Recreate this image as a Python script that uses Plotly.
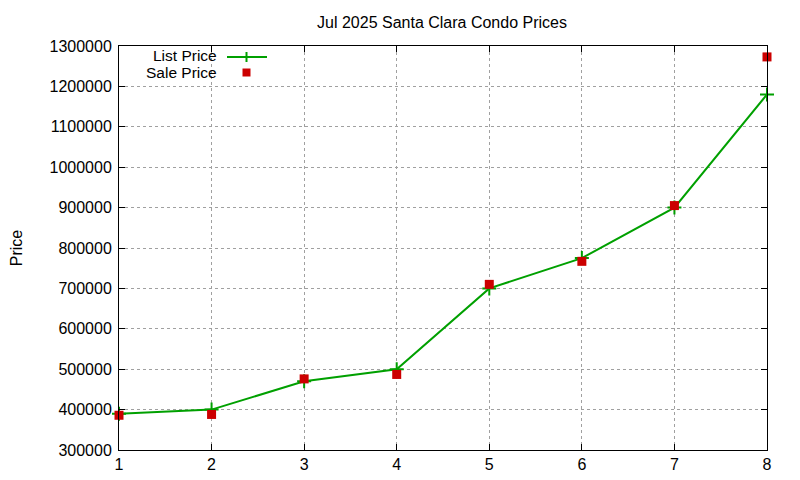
import plotly.graph_objects as go

months = [1, 2, 3, 4, 5, 6, 7, 8]
list_price = [390000, 400000, 470000, 500000, 700000, 775000, 900000, 1180000]
sale_price = [386000, 388000, 476000, 487000, 710000, 767000, 905000, 1273000]
y_ticks = [300000, 400000, 500000, 600000, 700000, 800000, 900000, 1000000,
           1100000, 1200000, 1300000]

FONT = "Liberation Sans, Arial, sans-serif"
GREEN = "#00a000"
RED = "#cc0000"
FS = 16

fig = go.Figure()
fig.add_trace(go.Scatter(
    x=months, y=list_price, mode="lines+markers", name="List Price",
    line=dict(color=GREEN, width=2),
    marker=dict(symbol="cross-thin", size=10, line=dict(color=GREEN, width=2)),
    showlegend=False, cliponaxis=False,
))
fig.add_trace(go.Scatter(
    x=months, y=sale_price, mode="markers", name="Sale Price",
    marker=dict(symbol="square", size=9, color=RED),
    showlegend=False, cliponaxis=False,
))

axis_common = dict(
    showline=True, linecolor="black", linewidth=1, mirror="allticks",
    ticks="inside", ticklen=6, tickcolor="black", automargin=False,
    showgrid=True, gridcolor="#a0a0a0", griddash="dot", gridwidth=1,
    zeroline=False, tickfont=dict(family=FONT, size=FS, color="black"),
)

# the page is rendered with a ~7px body margin in the screenshot
OFF = 7
L, R, T, B = 118, 766, 45, 449
fig.update_layout(
    width=800, height=480,
    margin=dict(l=L - OFF, r=800 - R + OFF, t=T - OFF, b=480 - B + OFF,
                autoexpand=False),
    paper_bgcolor="white", plot_bgcolor="white",
    title=dict(text="Jul 2025 Santa Clara Condo Prices", x=(441 - OFF) / 800,
               xanchor="center", y=1 - (21 - OFF) / 480, yanchor="middle",
               font=dict(family=FONT, size=FS, color="black")),
    xaxis=dict(range=[1, 8], tickvals=months, **axis_common),
    yaxis=dict(range=[300000, 1300000], tickvals=y_ticks, tickformat="d",
               ticklabelstandoff=3,
               title=dict(text="Price", font=dict(family=FONT, size=FS, color="black"),
                          standoff=28),
               **axis_common),
    font=dict(family=FONT, size=FS, color="black"),
)

W = R - L
H = B - T


def px(x):
    return (x - L) / W


def py(y):
    return (B - y) / H


# Gnuplot-style key (top-left, text right-aligned, sample to the right)
fig.add_annotation(xref="paper", yref="paper", x=px(218), y=py(54.5),
                   text="List Price", showarrow=False, xanchor="right", yanchor="middle",
                   font=dict(family=FONT, size=15.5, color="black"))
fig.add_annotation(xref="paper", yref="paper", x=px(218), y=py(71.5),
                   text="Sale Price", showarrow=False, xanchor="right", yanchor="middle",
                   font=dict(family=FONT, size=15.5, color="black"))
fig.add_shape(type="line", xref="paper", yref="paper",
              x0=px(226), x1=px(266), y0=py(56), y1=py(56),
              line=dict(color=GREEN, width=2))
fig.add_shape(type="line", xref="paper", yref="paper",
              x0=px(245.5), x1=px(245.5), y0=py(51), y1=py(61),
              line=dict(color=GREEN, width=2))
fig.add_shape(type="rect", xref="paper", yref="paper",
              x0=px(241.5), x1=px(249.5), y0=py(67.5), y1=py(75.5),
              fillcolor=RED, line=dict(width=0))

fig.write_html("out.html")
